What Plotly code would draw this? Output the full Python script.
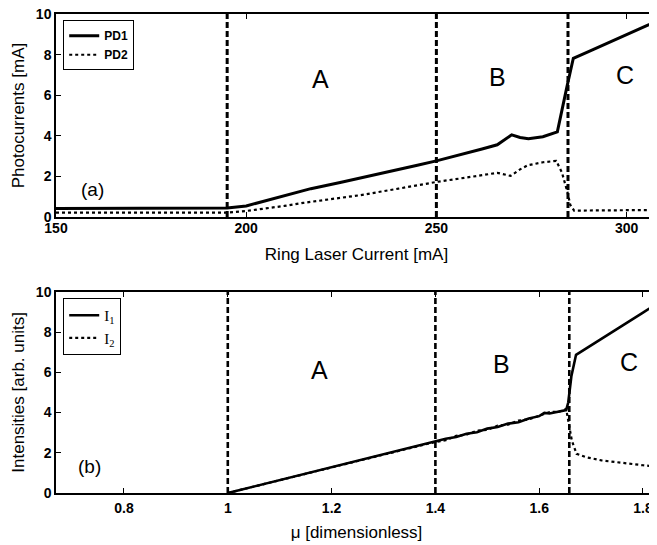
import plotly.graph_objects as go

# ---------------- Panel (a): photocurrents vs ring laser current ----------------
current_pd1 = [150, 160, 170, 180, 190, 195, 200, 205, 210, 214, 217, 225, 235, 245, 250,
               255, 258, 262, 266, 268, 269.8, 272, 274.2, 278, 281.8, 284.3, 286,
               290, 295, 300, 305, 308]
pd1 = [0.42, 0.42, 0.43, 0.43, 0.44, 0.45, 0.55, 0.80, 1.05, 1.28, 1.40, 1.72, 2.12, 2.55, 2.77,
       3.00, 3.16, 3.35, 3.56, 3.80, 4.05, 3.92, 3.86, 3.96, 4.20, 6.40, 7.82,
       8.15, 8.58, 9.00, 9.40, 9.65]

current_pd2 = [150, 160, 170, 180, 190, 195, 200, 205, 210, 215, 222, 230, 240, 250,
               258, 266, 269.5, 272, 274, 278, 281.5, 283, 284.5, 285.2, 286.2,
               290, 295, 300, 305, 308]
pd2 = [0.22, 0.22, 0.22, 0.22, 0.22, 0.22, 0.30, 0.42, 0.55, 0.70, 0.87, 1.08, 1.40, 1.73,
       1.95, 2.18, 2.03, 2.35, 2.55, 2.70, 2.77, 2.20, 1.20, 0.60, 0.32,
       0.32, 0.32, 0.33, 0.34, 0.35]

boundaries_a = [195, 250, 284.6]
region_names = ["A", "B", "C"]
region_x_a = [219.5, 266, 299.5]
region_y_a = [6.8, 6.9, 7.0]

# ---------------- Panel (b): intensities vs mu ----------------
mu_i1 = [1.0, 1.1, 1.2, 1.3, 1.4, 1.42, 1.44, 1.46, 1.48, 1.50, 1.52, 1.54, 1.56, 1.58,
         1.60, 1.61, 1.62, 1.64, 1.652, 1.656, 1.662, 1.671, 1.70, 1.75, 1.80, 1.83]
i1 = [0.0, 0.64, 1.27, 1.91, 2.54, 2.70, 2.78, 2.95, 3.02, 3.20, 3.28, 3.45, 3.52, 3.70,
      3.82, 3.98, 3.95, 4.08, 4.12, 4.50, 5.80, 6.87, 7.35, 8.16, 8.97, 9.45]

mu_i2 = [1.0, 1.1, 1.2, 1.3, 1.4, 1.42, 1.44, 1.46, 1.48, 1.50, 1.52, 1.54, 1.56, 1.58,
         1.60, 1.61, 1.62, 1.64, 1.652, 1.656, 1.663, 1.672, 1.69, 1.72, 1.75, 1.78,
         1.80, 1.83]
i2 = [0.0, 0.64, 1.27, 1.91, 2.54, 2.62, 2.84, 2.90, 3.10, 3.14, 3.35, 3.40, 3.60, 3.66,
      3.85, 3.92, 4.02, 4.05, 4.18, 3.60, 2.60, 1.95, 1.78, 1.62, 1.52, 1.42,
      1.38, 1.30]

boundaries_b = [1.0, 1.4, 1.658]
region_x_b = [1.177, 1.527, 1.773]
region_y_b = [6.1, 6.4, 6.5]

x_ticks_a = [150, 200, 250, 300]
x_ticks_b = [0.8, 1.0, 1.2, 1.4, 1.6, 1.8]
x_ticktext_b = ["0.8", "1", "1.2", "1.4", "1.6", "1.8"]
y_ticks = [0, 2, 4, 6, 8, 10]

FONT = "Liberation Sans"

fig = go.Figure()

fig.add_trace(go.Scatter(x=current_pd1, y=pd1, mode="lines", name="PD1",
                         line=dict(color="black", width=3), xaxis="x", yaxis="y",
                         legend="legend"))
fig.add_trace(go.Scatter(x=current_pd2, y=pd2, mode="lines", name="PD2",
                         line=dict(color="black", width=2.2, dash="dot"), xaxis="x", yaxis="y",
                         legend="legend"))
fig.add_trace(go.Scatter(x=mu_i1, y=i1, mode="lines", name="I<sub>1</sub>",
                         line=dict(color="black", width=2.6), xaxis="x2", yaxis="y2",
                         legend="legend2"))
fig.add_trace(go.Scatter(x=mu_i2, y=i2, mode="lines", name="I<sub>2</sub>",
                         line=dict(color="black", width=2.2, dash="dot"), xaxis="x2", yaxis="y2",
                         legend="legend2"))

shapes = []
for b in boundaries_a:
    shapes.append(dict(type="line", xref="x", yref="y domain", x0=b, x1=b, y0=0, y1=1,
                       line=dict(color="black", width=3, dash="6px,3px")))
for b in boundaries_b:
    shapes.append(dict(type="line", xref="x2", yref="y2 domain", x0=b, x1=b, y0=0, y1=1,
                       line=dict(color="black", width=2.6, dash="6px,3px")))

annotations = []
for name, xx, yy in zip(region_names, region_x_a, region_y_a):
    annotations.append(dict(x=xx, y=yy, xref="x", yref="y", text=name, showarrow=False,
                            font=dict(family=FONT, size=25, color="black")))
for name, xx, yy in zip(region_names, region_x_b, region_y_b):
    annotations.append(dict(x=xx, y=yy, xref="x2", yref="y2", text=name, showarrow=False,
                            font=dict(family=FONT, size=25, color="black")))
annotations.append(dict(x=159.6, y=1.35, xref="x", yref="y", text="(a)", showarrow=False,
                        font=dict(family=FONT, size=19, color="black")))
annotations.append(dict(x=0.733, y=1.3, xref="x2", yref="y2", text="(b)", showarrow=False,
                        font=dict(family=FONT, size=19, color="black")))

axis_common = dict(showline=True, linecolor="black", linewidth=1.5, ticks="inside",
                   ticklen=5, tickcolor="black", showgrid=False, zeroline=False,
                   automargin=False, ticklabeloverflow="allow",
                   tickfont=dict(family=FONT, size=14, color="black", weight="bold"))

# the page body adds an 8px offset, so the figure is 8px narrower/shorter than the window
fig.update_layout(
    width=649, height=537,
    margin=dict(l=48, r=0, t=6, b=52, autoexpand=False),
    paper_bgcolor="white", plot_bgcolor="white",
    shapes=shapes, annotations=annotations,
    xaxis=dict(domain=[0, 1], anchor="y", range=[150, 308], tickvals=x_ticks_a,
               mirror="ticks", ticklabelstandoff=-3,
               title=dict(text="Ring Laser Current [mA]", standoff=13,
                          font=dict(family=FONT, size=17, color="black")),
               **axis_common),
    yaxis=dict(domain=[0.576, 1.0], anchor="x", range=[0, 10], tickvals=y_ticks,
               title=dict(text="Photocurrents [mA]", standoff=7,
                          font=dict(family=FONT, size=17, color="black")),
               **axis_common),
    xaxis2=dict(domain=[0, 1], anchor="y2", range=[0.669, 1.827], tickvals=x_ticks_b,
                ticktext=x_ticktext_b, mirror="ticks", ticklabelstandoff=1,
                title=dict(text="μ [dimensionless]", standoff=12,
                           font=dict(family=FONT, size=17, color="black")),
                **axis_common),
    yaxis2=dict(domain=[0, 0.42], anchor="x2", range=[0, 10], tickvals=y_ticks,
                title=dict(text="Intensities [arb. units]", standoff=7,
                           font=dict(family=FONT, size=17, color="black")),
                **axis_common),
    legend=dict(x=0.012, y=0.987, xanchor="left", yanchor="top",
                bordercolor="black", borderwidth=1, bgcolor="white",
                font=dict(family=FONT, size=12, color="black", weight="bold"),
                itemwidth=30, tracegroupgap=0),
    legend2=dict(x=0.012, y=0.407, xanchor="left", yanchor="top",
                 bordercolor="black", borderwidth=1, bgcolor="white",
                 font=dict(family="Liberation Serif", size=15, color="black"),
                 itemwidth=30, tracegroupgap=0),
    showlegend=True,
)

fig.write_html("out.html")
